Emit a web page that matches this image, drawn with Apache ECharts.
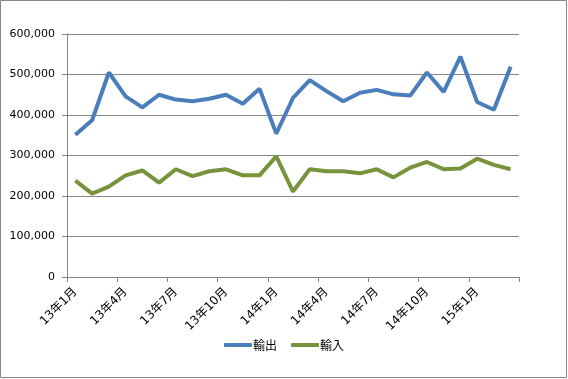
<!DOCTYPE html>
<html><head><meta charset="utf-8">
<script src="https://cdn.jsdelivr.net/npm/echarts@6/dist/echarts.min.js"></script>
<style>html,body{margin:0;padding:0;background:#fff}#c{width:568px;height:379px}</style>
</head><body><div id="c"></div>
<script>
const categories = ['13年1月','13年2月','13年3月','13年4月','13年5月','13年6月','13年7月','13年8月','13年9月','13年10月','13年11月','13年12月',
'14年1月','14年2月','14年3月','14年4月','14年5月','14年6月','14年7月','14年8月','14年9月','14年10月','14年11月','14年12月',
'15年1月','15年2月','15年3月'];
const exportsData = [351000,387000,505000,446000,419000,450000,438000,434000,440000,450000,428000,465000,
354000,442000,486000,459000,434000,455000,462000,451000,448000,505000,457000,544000,432000,413000,519000];
const importsData = [238000,206000,223000,251000,263000,233000,266000,249000,261000,266000,251000,251000,
298000,211000,266000,261000,261000,256000,266000,246000,270000,284000,266000,268000,292000,277000,266000];
const seriesNames = ['輸出','輸入'];

const chart = echarts.init(document.getElementById('c'), null, {renderer:'canvas'});
const fontJP = '"Noto Sans CJK JP", "DejaVu Sans", sans-serif';
const fontMix = '"DejaVu Sans", "Noto Sans CJK JP", sans-serif';
chart.setOption({
  animation:false,
  graphic:[{type:'rect',shape:{x:0.5,y:0.5,width:566,height:377},style:{fill:'none',stroke:'#868686',lineWidth:1},silent:true}],
  grid:{left:67,right:49,top:34,bottom:102,containLabel:false},
  legend:{
    top:334,left:'center',itemWidth:28,itemHeight:4,itemGap:14,
    icon:'roundRect',
    textStyle:{fontFamily:fontJP,fontSize:12,color:'#000',padding:[0,0,0,-4]},
    data:seriesNames
  },
  xAxis:{
    type:'category',data:categories,boundaryGap:true,
    axisLine:{lineStyle:{color:'#868686',width:1}},
    axisTick:{show:true,interval:2,length:5,lineStyle:{color:'#868686'}},
    axisLabel:{interval:2,rotate:45,fontFamily:fontMix,fontSize:12,color:'#000',margin:13}
  },
  yAxis:{
    type:'value',min:0,max:600000,interval:100000,
    axisLine:{show:true,lineStyle:{color:'#868686'}},
    axisTick:{show:true,length:5,lineStyle:{color:'#868686'}},
    splitLine:{lineStyle:{color:'#868686',width:1}},
    axisLabel:{fontFamily:'"DejaVu Sans", sans-serif',fontSize:11,color:'#000',margin:12,
      formatter:v=>v.toLocaleString('en-US')}
  },
  series:[
    {name:seriesNames[0],type:'line',data:exportsData,symbol:'none',lineStyle:{width:4,color:'#4A7EBB'},itemStyle:{color:'#4A7EBB'}},
    {name:seriesNames[1],type:'line',data:importsData,symbol:'none',lineStyle:{width:4,color:'#77933C'},itemStyle:{color:'#77933C'}}
  ]
});
</script></body></html>
